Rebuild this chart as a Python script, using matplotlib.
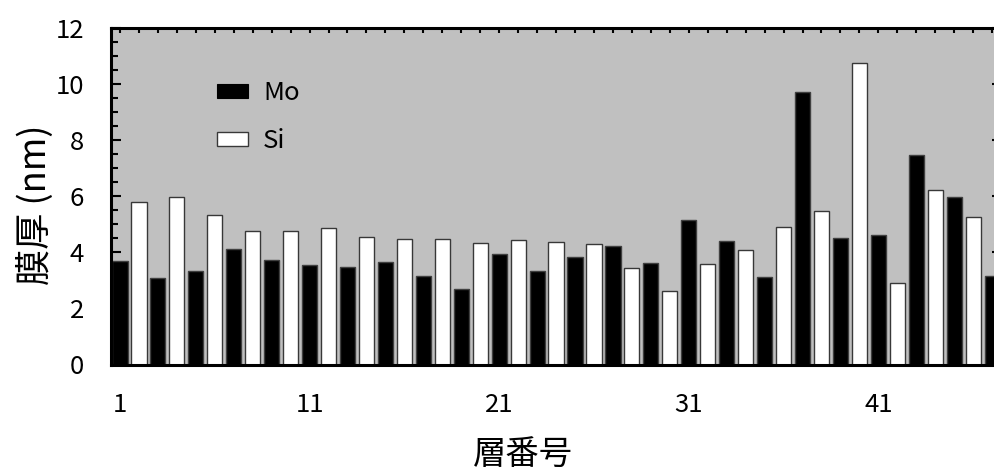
import matplotlib
matplotlib.use("Agg")
import matplotlib.pyplot as plt
from matplotlib.ticker import MultipleLocator, FixedLocator
from matplotlib.patches import Patch

plt.rcParams['font.family'] = ['Noto Sans CJK JP', 'DejaVu Sans']

# Layer thickness (nm); odd layers are Mo, even layers are Si
mo_layers = [1, 3, 5, 7, 9, 11, 13, 15, 17, 19, 21, 23, 25, 27, 29, 31,
             33, 35, 37, 39, 41, 43, 45, 47]
mo_thickness = [3.68, 3.09, 3.32, 4.12, 3.73, 3.56, 3.48, 3.64, 3.17, 2.69,
                3.95, 3.32, 3.83, 4.23, 3.63, 5.14, 4.39, 3.12, 9.70, 4.50,
                4.62, 7.48, 5.97, 3.16]
si_layers = [2, 4, 6, 8, 10, 12, 14, 16, 18, 20, 22, 24, 26, 28, 30, 32,
             34, 36, 38, 40, 42, 44, 46]
si_thickness = [5.80, 5.96, 5.33, 4.75, 4.75, 4.85, 4.53, 4.46, 4.46, 4.34,
                4.43, 4.38, 4.30, 3.43, 2.62, 3.59, 4.07, 4.89, 5.48, 10.75,
                2.91, 6.24, 5.26]
x_ticks = [1, 11, 21, 31, 41]
y_ticks = [0, 2, 4, 6, 8, 10, 12]
series_names = ["Mo", "Si"]

W, H = 995, 472
fig = plt.figure(figsize=(W / 100, H / 100), dpi=100)
ax = fig.add_axes([110.5 / W, 107.5 / H, 891.1 / W, 336.5 / H])
ax.set_facecolor('#c0c0c0')
ax.set_axisbelow(True)

ax.bar(mo_layers, mo_thickness, width=0.8, color='black',
       edgecolor='#404040', linewidth=1.0)
ax.bar(si_layers, si_thickness, width=0.8, color='white',
       edgecolor='#383838', linewidth=1.0)

ax.set_xlim(0.5, 47.5)
ax.set_ylim(0, 12)
ax.xaxis.set_major_locator(FixedLocator(x_ticks))
ax.xaxis.set_minor_locator(MultipleLocator(1))
ax.yaxis.set_major_locator(FixedLocator(y_ticks))
ax.yaxis.set_minor_locator(MultipleLocator(0.5))

for s in ax.spines.values():
    s.set_linewidth(2.2)

ax.tick_params(axis='y', which='major', direction='in', length=7, width=1.5,
               left=True, right=True, labelsize=18.5, pad=19)
ax.tick_params(axis='y', which='minor', direction='in', length=4.8, width=1.5,
               left=True, right=True)
ax.tick_params(axis='x', which='both', direction='in', length=3.6, width=1.5,
               top=True, bottom=True)
ax.tick_params(axis='x', which='major', labelsize=18.5, pad=20)

fig.text(35 / W, 1 - 205 / H, '膜厚 (nm)', rotation=90, fontsize=26,
         ha='center', va='center')
fig.text(523 / W, 1 - 454 / H, '層番号', fontsize=24, ha='center', va='center')

handles = [Patch(facecolor='black', edgecolor='black', linewidth=0.8),
           Patch(facecolor='white', edgecolor='#383838', linewidth=1.0)]
ax.legend(handles, series_names, loc='upper left',
          bbox_to_anchor=(217 / W, 1 - 80 / H), bbox_transform=fig.transFigure,
          frameon=False, fontsize=18.5, borderpad=0, borderaxespad=0,
          handlelength=1.2, handleheight=0.45, handletextpad=0.6,
          labelspacing=0.85)

fig.savefig('out.png', dpi=100)
